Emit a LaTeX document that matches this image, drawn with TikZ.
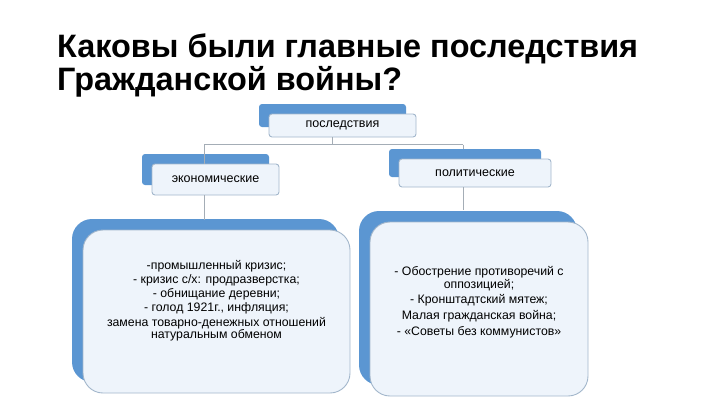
\documentclass[tikz,border=0pt]{standalone}
\usepackage{fontspec}
\setmainfont{Liberation Sans}
\usepackage{tikz}
\usetikzlibrary{shadows}
\definecolor{backblue}{HTML}{5B96D2}
\definecolor{frontfill}{HTML}{EEF4FB}
\definecolor{frontline}{HTML}{A2B6CB}
\definecolor{linkgray}{HTML}{A4ADB6}
\tikzset{
  labelbox/.style={
    draw=frontline,
    fill=frontfill,
    line width=0.9pt,
    rounded corners=3pt,
    align=center,
    inner sep=0pt,
    font=\fontsize{12.5}{13}\selectfont,
    general shadow={fill=backblue, shadow xshift=-10pt, shadow yshift=10pt}
  },
  listbox/.style={
    draw=frontline,
    fill=frontfill,
    line width=0.9pt,
    rounded corners=20pt,
    align=center,
    inner sep=0pt,
    font=\fontsize{12.3}{11.5}\selectfont,
    general shadow={fill=backblue, shadow xshift=-11pt, shadow yshift=11pt}
  },
  link/.style={
    draw=linkgray,
    line width=0.9pt
  }
}

\begin{document}
\begin{tikzpicture}[x=1pt, y=-1pt]
  \useasboundingbox (0,0) rectangle (720,405);
  % title
  \node[anchor=base west, align=left, inner sep=0pt,
        font=\fontsize{32.4}{33}\selectfont\bfseries] (title) at (57,90)
    {Каковы были главные последствия\\Гражданской войны?};
  % boxes
  \node[labelbox, minimum width=147pt, minimum height=23pt] (root) at (342.5,125.5) {последствия};
  \node[labelbox, minimum width=127pt, minimum height=31pt] (econ) at (215.5,179.5) {экономические};
  \node[labelbox, minimum width=152pt, minimum height=28pt] (polit) at (475,173) {политические};
  \node[listbox, minimum width=267pt, minimum height=163pt] (econlist) at (216.5,311.5)
    {-промышленный кризис;\\[2pt]
     - кризис с/х: продразверстка;\\[2pt]
     - обнищание деревни;\\[2pt]
     - голод 1921г., инфляция;\\[2pt]
     замена товарно-денежных отношений\\
     натуральным обменом\\[12pt]};
  \node[listbox, minimum width=218pt, minimum height=174pt] (politlist) at (479,309)
    {- Обострение противоречий с\\
     оппозицией;\\[3pt]
     - Кронштадтский мятеж;\\[3pt]
     Малая гражданская война;\\[3pt]
     - «Советы без коммунистов»\\[5pt]};
  % connectors
  \coordinate (fork) at (332,144.5);
  \coordinate (forkleft) at (204,144.5);
  \coordinate (forkright) at (463,144.5);
  \coordinate (econtop) at (204,164);
  \coordinate (politop) at (463,149);
  \coordinate (econdown) at (204,195);
  \coordinate (politdown) at (463,187);
  \coordinate (econlisttop) at (204,220);
  \coordinate (politlisttop) at (463,210);
  \draw[link] (root.south -| fork) -- (fork);
  \draw[link] (forkleft) -- (forkright);
  \draw[link] (forkleft) -- (econtop);
  \draw[link] (forkright) -- (politop);
  \draw[link] (econdown) -- (econlisttop);
  \draw[link] (politdown) -- (politlisttop);
\end{tikzpicture}
\end{document}
